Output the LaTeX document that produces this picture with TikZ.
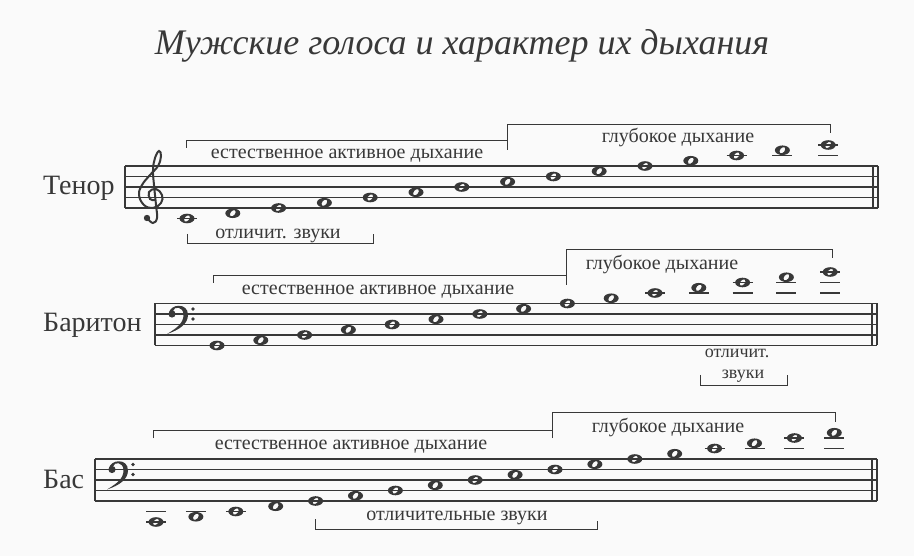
\documentclass[tikz,border=0pt]{standalone}
\usepackage{fontspec}
\setmainfont{Liberation Serif}
\definecolor{ink}{HTML}{383838}
\definecolor{bg}{HTML}{FAFAFA}
\tikzset{
  staffline/.style={ink, line width=1.1pt},
  brk/.style={ink, line width=0.9pt},
  brktext/.style={font=\fontsize{20}{22}\selectfont, text=ink, inner sep=0pt, anchor=base},
  vlabel/.style={font=\fontsize{28}{30}\selectfont, text=ink, inner sep=0pt, anchor=base west},
  ledger/.style={ink, line width=1.1pt},
  bassclef/.pic={
    \fill[ink] (2,-1) .. controls (3,-10) and (21,-12) .. (21,1)
      .. controls (21,10) and (12,16) .. (0,20)
      .. controls (10,14) and (16.5,9) .. (16.5,1)
      .. controls (16.5,-8) and (7,-8) .. (6,-3) -- cycle;
    \fill[ink] (5,0) circle (3.6pt);
    \fill[ink] (26,-5) circle (1.8pt);
    \fill[ink] (26,5) circle (1.8pt);
  }
}
\newcommand\wnote[2]{\fill[ink,even odd rule] (#1,#2) ellipse [x radius=7.5pt, y radius=4.8pt] (#1,#2) ellipse [x radius=3.6pt, y radius=2.3pt, rotate=50];}
\newcommand\ledg[3]{\draw[ledger] (#1-10,#2-#3*5.25) -- (#1+10,#2-#3*5.25);}
\newcommand\notelist[5]{%
  \foreach \k [count=\i from 0] in {#3,...,#4}{%
    \pgfmathsetmacro\nx{#1+\i*#2}%
    \pgfmathsetmacro\ny{#5-\k*5.25}%
    \wnote{\nx}{\ny}%
    \ifnum\k<-1 \ledg{\nx}{#5}{-2}\fi
    \ifnum\k<-3 \ledg{\nx}{#5}{-4}\fi
    \ifnum\k>9 \ledg{\nx}{#5}{10}\fi
    \ifnum\k>11 \ledg{\nx}{#5}{12}\fi
    \ifnum\k>13 \ledg{\nx}{#5}{14}\fi
  }}
\newcommand\staff[3]{% xl, xr, ybottom
  \foreach \j in {0,...,4}{\draw[staffline] (#1,#3-\j*10.5) -- (#2,#3-\j*10.5);}
  \draw[staffline] (#1,#3) -- (#1,#3-42);
  \draw[staffline] (#2-5,#3) -- (#2-5,#3-42);
  \draw[ink, line width=1.4pt] (#2,#3) -- (#2,#3-42);
}
\begin{document}
\begin{tikzpicture}[x=1pt,y=-1pt]
\fill[bg] (0,0) rectangle (914,556);
\useasboundingbox (0,0) rectangle (914,556);

\node[font=\fontsize{36}{40}\selectfont\itshape, text=ink, inner sep=0pt, anchor=base] (title) at (462,55) {Мужские голоса и характер их дыхания};

% ---------- Tenor ----------
\node[vlabel] (tenor) at (43,195) {Тенор};
\staff{125}{878}{208}
\draw[ink, line width=2pt, line cap=round] plot[smooth, tension=0.7] coordinates {(148,219) (153,223) (157,218) (156,205) (154,185) (153,170) (155,158) (159,151) (161,156) (158,166) (150,175) (142,185) (139,195) (144,205) (153,208) (161,203) (162,195) (156,189) (149,192) (150,199) (154,200)};
\fill[ink] (147,218) circle (3.2pt);
\notelist{187}{45.8}{-2}{12}{208}
\draw[brk] (186,148) -- (186,140) -- (507,140);
\draw[brk] (507,150) -- (507,124) -- (830,124) -- (830,133);
\draw[brk] (187,234) -- (187,243) -- (373,243) -- (373,234);
\node[brktext] (t1) at (347,159) {естественное активное дыхание};
\node[brktext] (t2) at (678,143) {глубокое дыхание};
\node[brktext] (t3) at (278,239) {отличит. звуки};

% ---------- Baritone ----------
\node[vlabel] (bariton) at (43,332) {Баритон};
\staff{155}{877}{345.5}
\pic at (167,314) {bassclef};
\notelist{217}{43.8}{0}{14}{345.5}
\draw[brk] (213,283) -- (213,275) -- (566,275);
\draw[brk] (566,285) -- (566,249) -- (832,249) -- (832,258);
\draw[brk] (700,375) -- (700,385) -- (787,385) -- (787,375);
\node[brktext] (b1) at (378,295) {естественное активное дыхание};
\node[brktext] (b2) at (662,270) {глубокое дыхание};
\node[brktext, font=\fontsize{18}{20}\selectfont] (b3) at (737,358) {отличит.};
\node[brktext, font=\fontsize{18}{20}\selectfont] (b4) at (743,378) {звуки};

% ---------- Bass ----------
\node[vlabel] (bas) at (43,488) {Бас};
\staff{95}{877}{501}
\pic at (107,469.5) {bassclef};
\notelist{156}{39.9}{-4}{13}{501}
\draw[brk] (153,438) -- (153,430) -- (552,430);
\draw[brk] (552,438) -- (552,412) -- (835,412) -- (835,422);
\draw[brk] (315,519) -- (315,529) -- (597,529) -- (597,521);
\node[brktext] (s1) at (351,449) {естественное активное дыхание};
\node[brktext] (s2) at (668,432) {глубокое дыхание};
\node[brktext] (s3) at (457,520) {отличительные звуки};
\end{tikzpicture}
\end{document}
